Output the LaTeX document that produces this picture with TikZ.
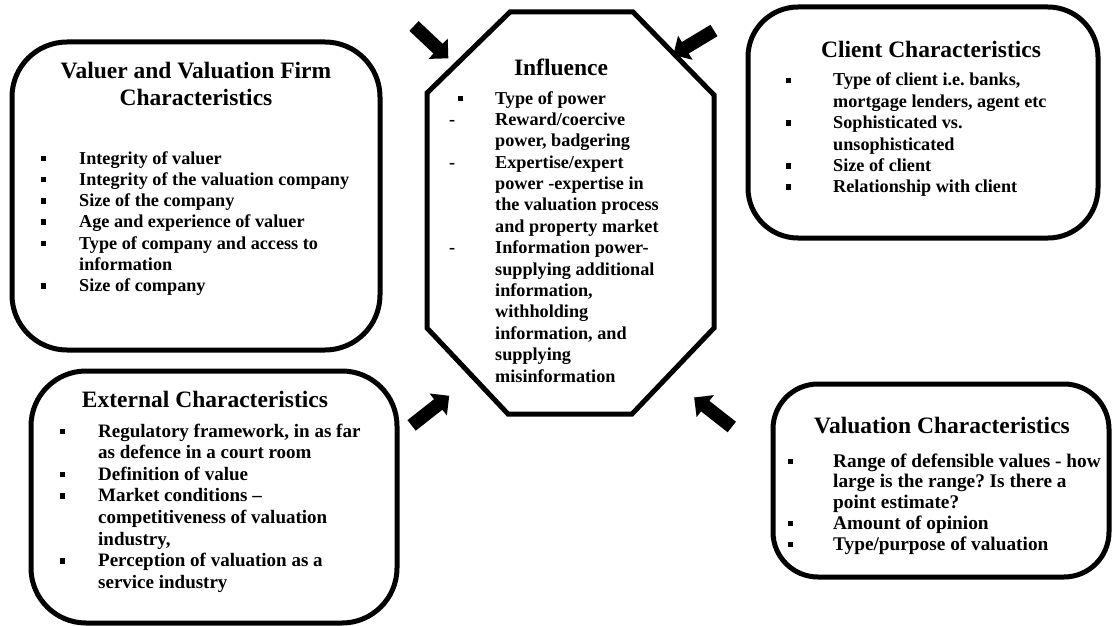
\documentclass[tikz,border=0pt]{standalone}
\usepackage{fontspec}
\setmainfont{Liberation Serif}
\usetikzlibrary{calc}
\frenchspacing
\newcommand{\sqb}{\rule[3pt]{5pt}{5.5pt}}
\newcommand{\bsq}[1]{\makebox[#1][l]{\sqb}}
\newcommand{\blockarr}[2]{%
  \coordinate (#1-b) at ($(#2)!14pt!(#1)$);
  \fill ($(#1)!6.7pt!90:(#2)$) -- ($(#1-b)!6.7pt!90:(#2)$) -- ($(#1-b)!14pt!90:(#2)$) -- (#2)
     -- ($(#1-b)!14pt!-90:(#2)$) -- ($(#1-b)!6.7pt!-90:(#2)$) -- ($(#1)!6.7pt!-90:(#2)$) -- cycle;}
\tikzset{
  box/.style={draw, line width=5pt, rounded corners=50pt, inner sep=0pt, fill=none},
  ttl/.style={anchor=base, inner sep=0pt, font=\fontsize{23.5}{27}\selectfont\bfseries\frenchspacing},
  lst/.style={anchor=base west, inner sep=0pt},
}
\begin{document}
\begin{tikzpicture}[x=1pt,y=-1pt]
\fill[white] (0,0) rectangle (1112,626);
\useasboundingbox (0,0) rectangle (1112,626);

% boxes
\node[box, minimum width=368pt, minimum height=308pt, rounded corners=55pt] (valuer) at (196,196) {};
\node[box, minimum width=350pt, minimum height=231pt] (client) at (923,122.5) {};
\node[box, minimum width=366pt, minimum height=252pt, rounded corners=55pt] (external) at (214,497) {};
\node[box, minimum width=336pt, minimum height=193pt, rounded corners=45pt] (valuation) at (941,480.5) {};

% octagon
\coordinate (o1) at (510,12);
\coordinate (o2) at (633,12);
\coordinate (o3) at (714,95);
\coordinate (o4) at (714,328);
\coordinate (o5) at (632,414);
\coordinate (o6) at (508,414);
\coordinate (o7) at (427,328);
\coordinate (o8) at (427,93);
\draw[line width=5pt, line join=miter] (o1) -- (o2) -- (o3) -- (o4) -- (o5) -- (o6) -- (o7) -- (o8) -- cycle;

% titles
\node[ttl] (valuer-t) at (196,79) {\begin{tabular}[t]{@{}c@{}}Valuer and Valuation Firm\\[0pt]Characteristics\end{tabular}};
\node[ttl] (influence) at (561,76) {Influence};
\node[ttl] (client-t) at (931,58) {Client Characteristics};
\node[ttl] (external-t) at (205,407) {External Characteristics};
\node[ttl] (valuation-t) at (942,433) {Valuation Characteristics};

% lists
\node[lst] (valuer-l) at (40.5,164) {\fontsize{18.2}{21.3}\selectfont\bfseries\frenchspacing
\begin{tabular}[t]{@{}l@{}l@{}}
\bsq{38.5pt} & Integrity of valuer\\
\bsq{38.5pt} & Integrity of the valuation company\\
\bsq{38.5pt} & Size of the company\\
\bsq{38.5pt} & Age and experience of valuer\\
\bsq{38.5pt} & Type of company and access to\\
 & information\\
\bsq{38.5pt} & Size of company
\end{tabular}};

\node[lst] (influence-l) at (449,104) {\fontsize{18.2}{21.4}\selectfont\bfseries\frenchspacing
\begin{tabular}[t]{@{}l@{}l@{}}
\makebox[46pt][l]{\hspace{8.5pt}\sqb} & Type of power\\
\makebox[46pt][l]{-} & Reward/coercive\\
 & power, badgering\\
\makebox[46pt][l]{-} & Expertise/expert\\
 & power -expertise in\\
 & the valuation process\\
 & and property market\\
\makebox[46pt][l]{-} & Information power-\\
 & supplying additional\\
 & information,\\
 & withholding\\
 & information, and\\
 & supplying\\
 & misinformation
\end{tabular}};

\node[lst] (client-l) at (785.5,86) {\fontsize{18.2}{21.4}\selectfont\bfseries\frenchspacing
\begin{tabular}[t]{@{}l@{}l@{}}
\bsq{47.5pt} & Type of client i.e. banks,\\
 & mortgage lenders, agent etc\\
\bsq{47.5pt} & Sophisticated vs.\\
 & unsophisticated\\
\bsq{47.5pt} & Size of client\\
\bsq{47.5pt} & Relationship with client
\end{tabular}};

\node[lst] (external-l) at (59.5,437) {\fontsize{19}{21.6}\selectfont\bfseries\frenchspacing
\begin{tabular}[t]{@{}l@{}l@{}}
\bsq{38.5pt} & Regulatory framework, in as far\\
 & as defence in a court room\\
\bsq{38.5pt} & Definition of value\\
\bsq{38.5pt} & Market conditions –\\
 & competitiveness of valuation\\
 & industry,\\
\bsq{38.5pt} & Perception of valuation as a\\
 & service industry
\end{tabular}};

\node[lst] (valuation-l) at (787.5,467) {\fontsize{19.3}{20.8}\selectfont\bfseries\frenchspacing
\begin{tabular}[t]{@{}l@{}l@{}}
\bsq{45.5pt} & Range of defensible values - how\\
 & large is the range? Is there a\\
 & point estimate?\\
\bsq{45.5pt} & Amount of opinion\\
\bsq{45.5pt} & Type/purpose of valuation
\end{tabular}};

% block arrows
\coordinate (a1t) at (414,26);     \coordinate (a1p) at (448.3,58.3);
\coordinate (a2t) at (714,30.5);   \coordinate (a2p) at (673.3,55);
\coordinate (a3t) at (411.6,425.4); \coordinate (a3p) at (449.2,395.8);
\coordinate (a4t) at (731.8,427);  \coordinate (a4p) at (694.2,397.5);
\blockarr{a1t}{a1p}
\blockarr{a2t}{a2p}
\blockarr{a3t}{a3p}
\blockarr{a4t}{a4p}
\end{tikzpicture}
\end{document}
